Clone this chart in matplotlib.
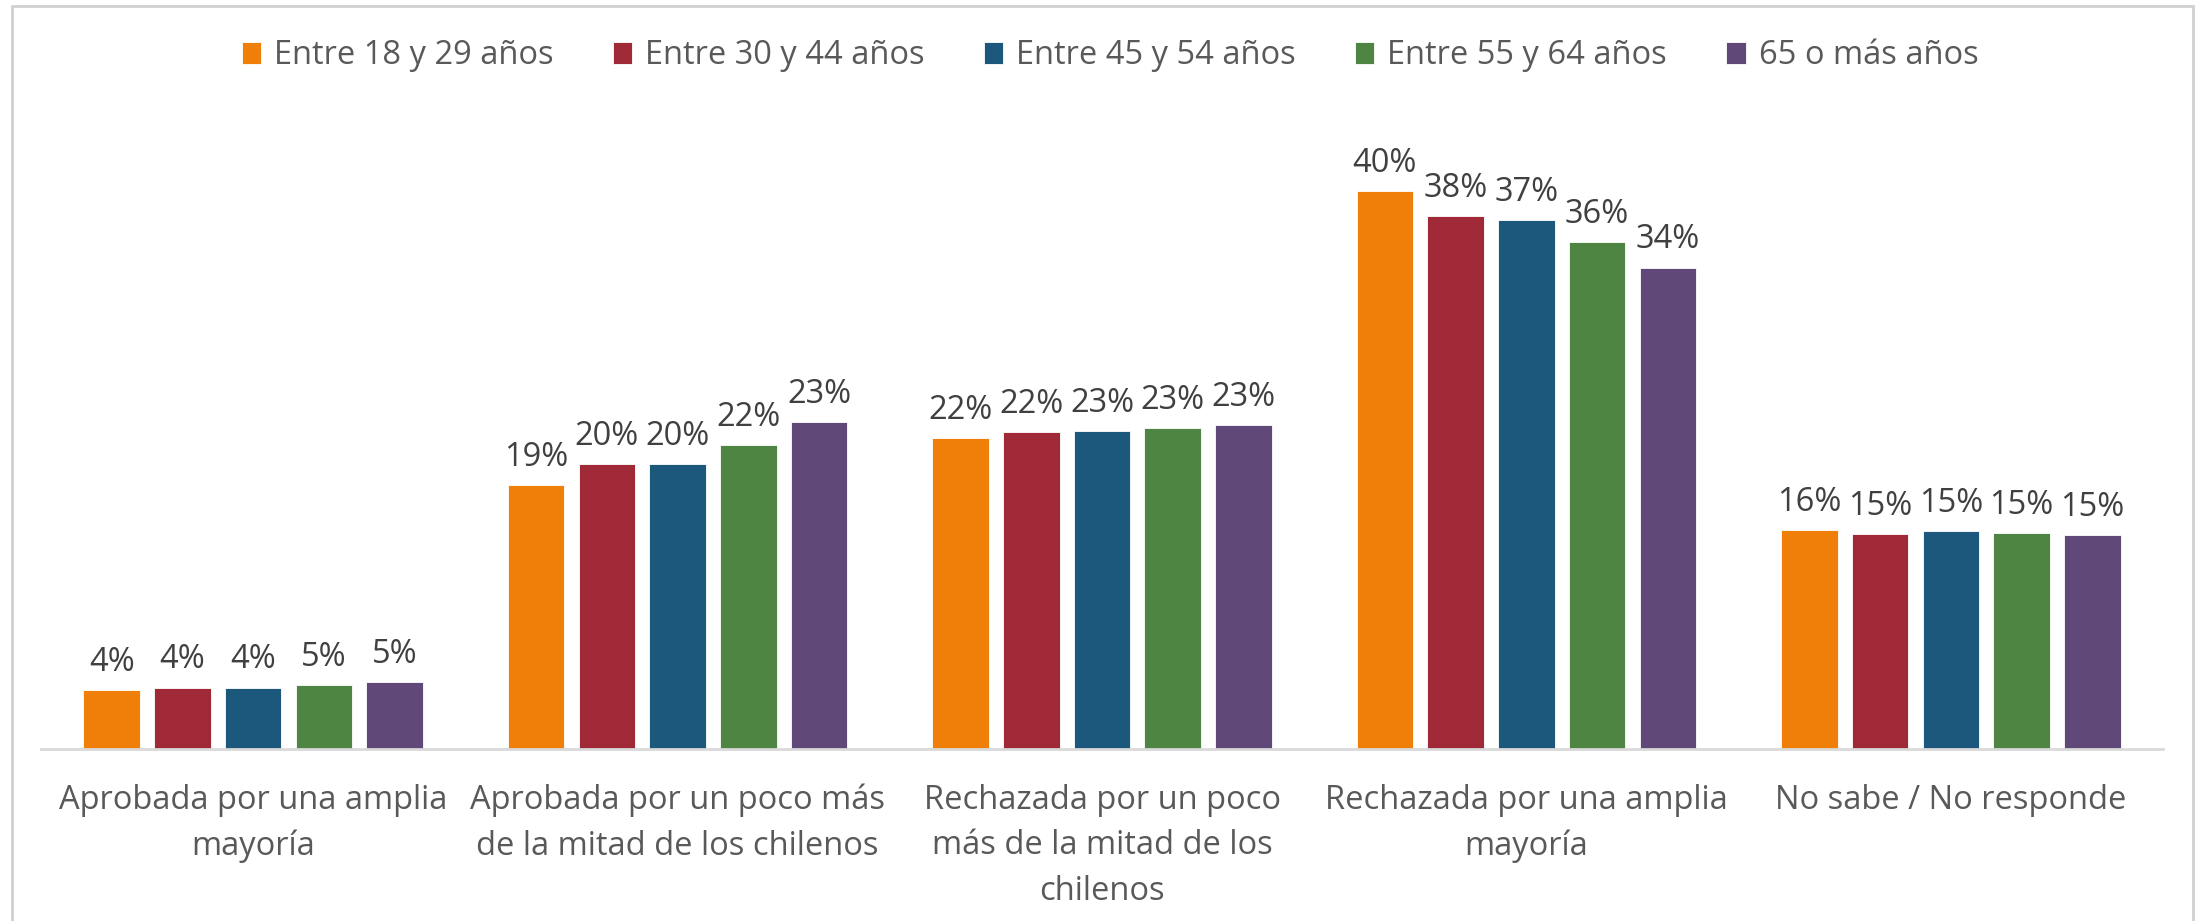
import numpy as np
import matplotlib.pyplot as plt
from matplotlib.patches import Rectangle

plt.rcParams['font.family'] = ['Open Sans', 'DejaVu Sans']

categorias = [
    "Aprobada por una amplia\nmayoría",
    "Aprobada por un poco más\nde la mitad de los chilenos",
    "Rechazada por un poco\nmás de la mitad de los\nchilenos",
    "Rechazada por una amplia\nmayoría",
    "No sabe / No responde",
]
grupos = ["Entre 18 y 29 años", "Entre 30 y 44 años", "Entre 45 y 54 años",
          "Entre 55 y 64 años", "65 o más años"]

# heights, labels as printed
edad_18_29 = [4.2, 18.9, 22.3, 40.0, 15.7]
edad_30_44 = [4.4, 20.4, 22.7, 38.2, 15.4]
edad_45_54 = [4.4, 20.4, 22.8, 37.9, 15.6]
edad_55_64 = [4.6, 21.8, 23.0, 36.3, 15.5]
edad_65_mas = [4.8, 23.4, 23.2, 34.5, 15.3]

etiq_18_29 = ["4%", "19%", "22%", "40%", "16%"]
etiq_30_44 = ["4%", "20%", "22%", "38%", "15%"]
etiq_45_54 = ["4%", "20%", "23%", "37%", "15%"]
etiq_55_64 = ["5%", "22%", "23%", "36%", "15%"]
etiq_65_mas = ["5%", "23%", "23%", "34%", "15%"]

series = [edad_18_29, edad_30_44, edad_45_54, edad_55_64, edad_65_mas]
etiquetas = [etiq_18_29, etiq_30_44, etiq_45_54, etiq_55_64, etiq_65_mas]
colores = ["#F07F09", "#9F2936", "#1B587C", "#4E8542", "#604878"]

fig = plt.figure(figsize=(22, 9.21), dpi=100)
ax = fig.add_axes([41 / 2200, 1 - 749 / 921, 2122 / 2200, 628 / 921])

x = np.arange(len(categorias))
paso = 1 / 6
ancho = 0.8 * paso
for i, (vals, labs, col) in enumerate(zip(series, etiquetas, colores)):
    pos = x + (i - 2) * paso
    bars = ax.bar(pos, vals, width=ancho, color=col, edgecolor="#FFFFFF",
                  linewidth=0.6, label=grupos[i])
    for b, t in zip(bars, labs):
        ax.text(b.get_x() + b.get_width() / 2, b.get_height() + 0.8, t,
                ha="center", va="bottom", fontsize=23.5, color="#404040")

ax.set_xlim(-0.5, len(categorias) - 0.5)
ax.set_ylim(0, 45)
ax.set_yticks([])
ax.set_xticks(x)
ax.set_xticklabels(categorias, fontsize=23.5, color="#595959", linespacing=1.5)
ax.tick_params(axis="x", length=0, pad=25)
for s in ["top", "right", "left"]:
    ax.spines[s].set_visible(False)
ax.spines["bottom"].set_color("#D9D9D9")
ax.spines["bottom"].set_linewidth(2)

fig.legend(loc="center", bbox_to_anchor=(1110 / 2200, 1 - 56 / 921), ncol=5,
           frameon=False, fontsize=23.5, handlelength=0.6, handleheight=0.65,
           handletextpad=0.4, columnspacing=1.8, labelcolor="#595959")

fig.patches.append(Rectangle((12 / 2200, -0.05), 2181 / 2200, 1.05 - 6 / 921,
                             transform=fig.transFigure, fill=False,
                             edgecolor="#D0D0D0", linewidth=2))

fig.savefig("out.png", dpi=100)
